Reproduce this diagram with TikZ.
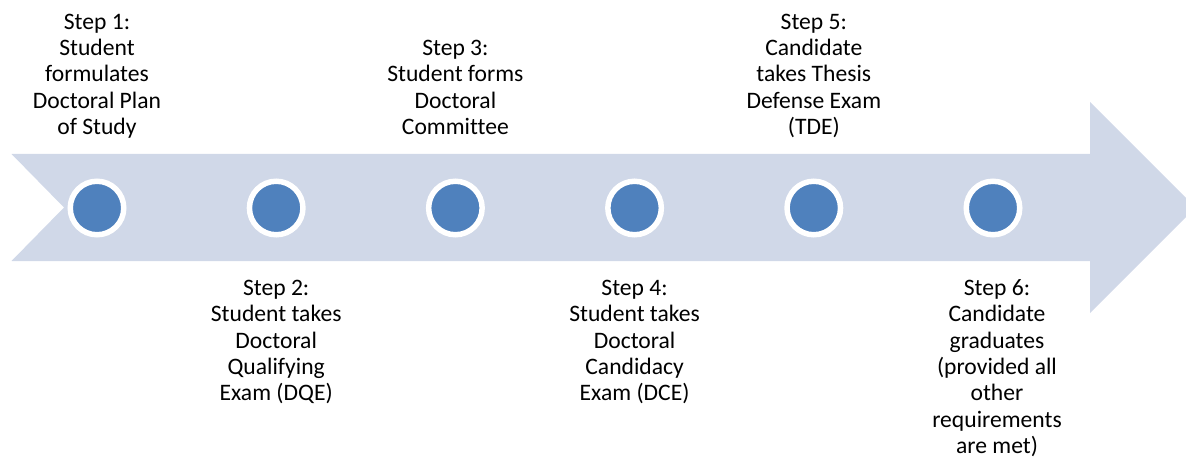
\documentclass[tikz,border=0pt]{standalone}
\usepackage{fontspec}
\setmainfont[Ligatures=NoCommon]{Carlito}
\definecolor{arrowfill}{HTML}{D0D8E8}
\definecolor{dotfill}{HTML}{4F81BD}
\begin{document}
\begin{tikzpicture}[x=1pt,y=-1pt,
  lbl/.style={inner sep=0pt, outer sep=0pt, text=black, font=\fontsize{23.6}{26.3}\selectfont},
  dot/.style={circle, fill=dotfill, draw=white, line width=5.5pt, minimum size=53.5pt, inner sep=0pt}]
\useasboundingbox (0,0) rectangle (1186,457);
\clip (0,0) rectangle (1186,457);
\fill[arrowfill] (11.5,154) -- (1090,154) -- (1090,102) -- (1195.5,207.5) -- (1090,313) -- (1090,261) -- (11.5,261) -- (64,207.5) -- cycle;
\foreach \i/\x in {1/97,2/276.2,3/455.4,4/634.6,5/813.8,6/993}{
  \node[dot] (c\i) at (\x,208) {};
}
\renewcommand{\arraystretch}{1}
\node[lbl, anchor=base] (t1) at (97,134.5) {\begin{tabular}[b]{@{}c@{}}Step 1:\\Student\\formulates\\Doctoral Plan\\of Study\end{tabular}};
\node[lbl, anchor=base] (t3) at (455.4,134.5) {\begin{tabular}[b]{@{}c@{}}Step 3:\\Student forms\\Doctoral\\Committee\end{tabular}};
\node[lbl, anchor=base] (t5) at (813.8,134.5) {\begin{tabular}[b]{@{}c@{}}Step 5:\\Candidate\\takes Thesis\\Defense Exam\\(TDE)\end{tabular}};
\node[lbl, anchor=base] (t2) at (276.2,295.5) {\begin{tabular}[t]{@{}c@{}}Step 2:\\Student takes\\Doctoral\\Qualifying\\Exam (DQE)\end{tabular}};
\node[lbl, anchor=base] (t4) at (634.6,295.5) {\begin{tabular}[t]{@{}c@{}}Step 4:\\Student takes\\Doctoral\\Candidacy\\Exam (DCE)\end{tabular}};
\node[lbl, anchor=base] (t6) at (997,295.5) {\begin{tabular}[t]{@{}c@{}}Step 6:\\Candidate\\graduates\\(provided all\\other\\requirements\\are met)\end{tabular}};
\end{tikzpicture}
\end{document}
